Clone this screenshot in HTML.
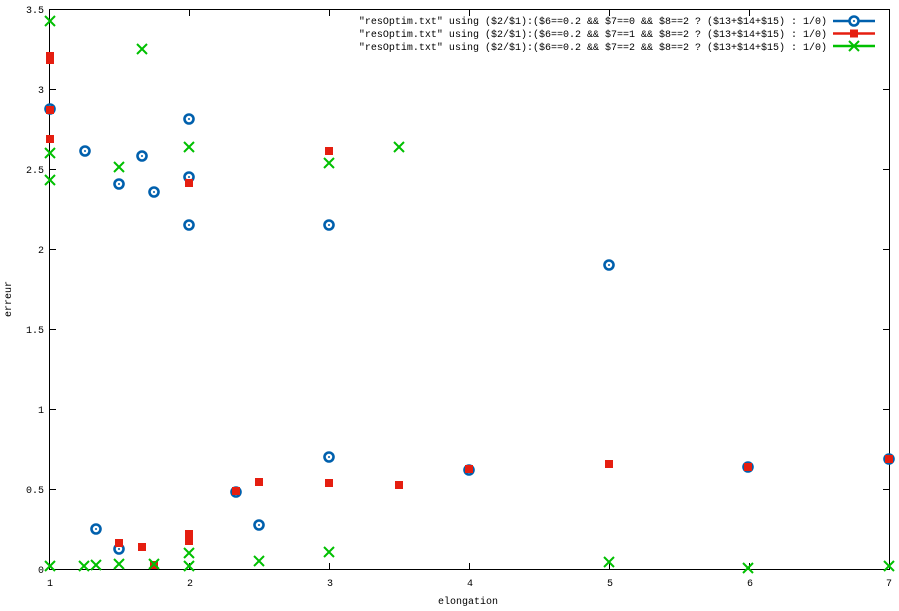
<!DOCTYPE html>
<html><head><style>body{margin:0;background:#fff}svg{display:block}text{font-family:"Liberation Mono",monospace;font-size:10px;fill:#000}</style></head><body>
<svg width="899" height="611" xmlns="http://www.w3.org/2000/svg">
<defs>
<g id="c"><circle r="4.5" fill="#fff" stroke="#0060ad" stroke-width="2.6"/><circle r="1" fill="#0060ad"/></g>
<rect id="s" x="-4" y="-4" width="8" height="8" fill="#e51e10"/>
<path id="x" d="M-5,-5L5,5M-5,5L5,-5" stroke="#00c000" stroke-width="2" fill="none"/>
</defs>
<rect x="49.5" y="9.5" width="840" height="560" fill="none" stroke="#000"/>
<g stroke="#000">
<path d="M50,489.5h6M50,409.5h6M50,329.5h6M50,249.5h6M50,169.5h6M50,89.5h6M889,489.5h-6M889,409.5h-6M889,329.5h-6M889,249.5h-6M889,169.5h-6M889,89.5h-6"/>
<path d="M189.5,569v-6M329.5,569v-6M469.5,569v-6M609.5,569v-6M749.5,569v-6M189.5,10v6M329.5,10v6M469.5,10v6M609.5,10v6M749.5,10v6"/>
</g>
<g text-anchor="end">
<text x="44" y="573">0</text><text x="44" y="493">0.5</text><text x="44" y="413">1</text><text x="44" y="333">1.5</text><text x="44" y="253">2</text><text x="44" y="173">2.5</text><text x="44" y="93">3</text><text x="44" y="13">3.5</text>
</g>
<g text-anchor="middle">
<text x="50" y="586">1</text><text x="190" y="586">2</text><text x="330" y="586">3</text><text x="470" y="586">4</text><text x="610" y="586">5</text><text x="750" y="586">6</text><text x="889" y="586">7</text>
<text x="468" y="604">elongation</text>
<text transform="translate(11,299) rotate(-90)">erreur</text>
</g>
<g text-anchor="end" xml:space="preserve" style="font-size:9.7px">
<text x="827" y="24">"resOptim.txt" using ($2/$1):($6==0.2 &amp;&amp; $7==0 &amp;&amp; $8==2 ? ($13+$14+$15) : 1/0)</text>
<text x="827" y="37">"resOptim.txt" using ($2/$1):($6==0.2 &amp;&amp; $7==1 &amp;&amp; $8==2 ? ($13+$14+$15) : 1/0)</text>
<text x="827" y="50">"resOptim.txt" using ($2/$1):($6==0.2 &amp;&amp; $7==2 &amp;&amp; $8==2 ? ($13+$14+$15) : 1/0)</text>
</g>
<path d="M833,21h42" stroke="#0060ad" stroke-width="2.6"/><use href="#c" x="854" y="21"/>
<path d="M833,33.5h42" stroke="#e51e10" stroke-width="2.6"/><use href="#s" x="854" y="33.5"/>
<path d="M833,46h42" stroke="#00c000" stroke-width="2.6"/><use href="#x" x="854" y="46"/>
<g>
<use href="#c" x="50" y="109"/><use href="#c" x="85" y="151"/><use href="#c" x="119" y="184"/><use href="#c" x="142" y="156"/><use href="#c" x="154" y="192"/><use href="#c" x="189" y="119"/><use href="#c" x="189" y="177"/><use href="#c" x="189" y="225"/><use href="#c" x="329" y="225"/><use href="#c" x="609" y="265"/>
<use href="#c" x="96" y="529"/><use href="#c" x="119" y="549"/><use href="#c" x="236" y="492"/><use href="#c" x="259" y="525"/><use href="#c" x="329" y="457"/><use href="#c" x="469" y="470"/><use href="#c" x="748" y="467"/><use href="#c" x="889" y="459"/>
</g>
<g>
<use href="#s" x="50" y="56"/><use href="#s" x="50" y="60"/><use href="#s" x="50" y="110"/><use href="#s" x="50" y="139"/><use href="#s" x="189" y="183"/><use href="#s" x="329" y="151"/>
<use href="#s" x="119" y="543"/><use href="#s" x="142" y="547"/><use href="#s" x="154" y="565"/><use href="#s" x="189" y="534"/><use href="#s" x="189" y="541"/><use href="#s" x="236" y="491"/><use href="#s" x="259" y="482"/><use href="#s" x="329" y="483"/><use href="#s" x="399" y="485"/><use href="#s" x="469" y="469"/><use href="#s" x="609" y="464"/><use href="#s" x="748" y="467"/><use href="#s" x="889" y="459"/>
</g>
<g>
<use href="#x" x="50" y="21"/><use href="#x" x="50" y="153"/><use href="#x" x="50" y="180"/><use href="#x" x="142" y="49"/><use href="#x" x="119" y="167"/><use href="#x" x="189" y="147"/><use href="#x" x="329" y="163"/><use href="#x" x="399" y="147"/>
<use href="#x" x="50" y="566"/><use href="#x" x="84" y="566"/><use href="#x" x="96" y="565"/><use href="#x" x="119" y="564"/><use href="#x" x="154" y="564"/><use href="#x" x="189" y="553"/><use href="#x" x="189" y="566"/><use href="#x" x="259" y="561"/><use href="#x" x="329" y="552"/><use href="#x" x="609" y="562"/><use href="#x" x="748" y="568"/><use href="#x" x="889" y="566"/>
</g>
</svg>
</body></html>
